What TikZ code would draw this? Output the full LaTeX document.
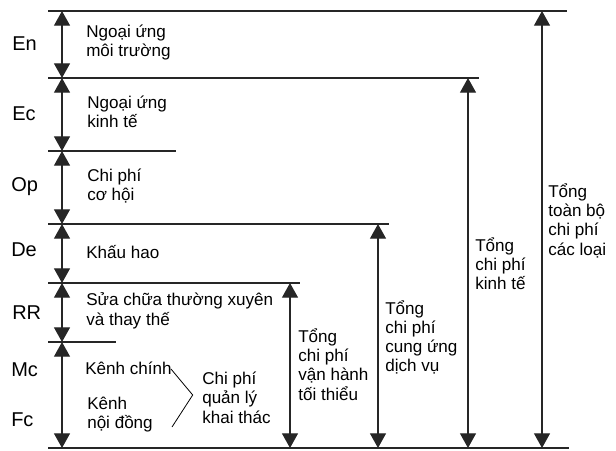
\documentclass[tikz,border=0pt]{standalone}
\usepackage{fontspec}
\setmainfont{Liberation Sans}
\usetikzlibrary{arrows.meta}

\begin{document}
\begin{tikzpicture}[x=0.75pt,y=-0.75pt,
    lvl/.style={line width=1.1pt,draw=black!85},
    dim/.style={line width=0.9pt,draw=black!85,
      {Triangle[width=12pt,length=11pt]}-{Triangle[width=12pt,length=11pt]}},
    txt/.style={font=\fontsize{12.8}{14.3}\selectfont,inner sep=0,anchor=base west,align=left},
    lab/.style={font=\fontsize{15}{18}\selectfont,inner sep=0,anchor=base west}]
  \useasboundingbox (0,0) rectangle (616,450);
  \foreach \n/\y/\r in {0/11/567,1/78/479,2/151/176,3/224/389,4/283/300,5/342/116,6/448/569}{
    \coordinate (h\n) at (48,\y);
    \coordinate (e\n) at (\r,\y);
    \coordinate (l\n) at (62,\y);
    \draw[lvl] (h\n) -- (e\n);
  }
  \foreach \a/\b in {0/1,1/2,2/3,3/4,4/5,5/6}
    \draw[dim] (l\a) -- (l\b);
  \coordinate (cvh) at (290,0);
  \coordinate (ccu) at (378,0);
  \coordinate (ckt) at (468,0);
  \coordinate (ctb) at (542,0);
  \draw[dim] (h4 -| cvh) -- (h6 -| cvh);
  \draw[dim] (h3 -| ccu) -- (h6 -| ccu);
  \draw[dim] (h1 -| ckt) -- (h6 -| ckt);
  \draw[dim] (h0 -| ctb) -- (h6 -| ctb);
  \node[lab] (en) at (12,50) {En};
  \node[lab] (ec) at (12,120.7) {Ec};
  \node[lab] (op) at (11,191.7) {Op};
  \node[lab] (de) at (11,256.7) {De};
  \node[lab] (rr) at (12,319.3) {RR};
  \node[lab] (mc) at (11,376) {Mc};
  \node[lab] (fc) at (11,426.7) {Fc};
  \node[txt] (ngmt) at (86,56.7) {Ngoại ứng\\môi trường};
  \node[txt] (ngkt) at (87,127.3) {Ngoại ứng\\kinh tế};
  \node[txt] (cpch) at (87,200.5) {Chi phí\\cơ hội};
  \node[txt] (khao) at (86,258.3) {Khấu hao};
  \node[txt] (scht) at (86,325) {Sửa chữa thường xuyên\\và thay thế};
  \node[txt] (kchinh) at (85,374) {Kênh chính};
  \node[txt] (kndong) at (87,428.5) {Kênh\\nội đồng};
  \node[txt] (qlkt) at (202,423) {Chi phí\\quản lý\\khai thác};
  \coordinate (b1) at (171,369);
  \coordinate (b2) at (192.7,395);
  \coordinate (b3) at (172,427);
  \draw[line width=0.6pt] (b1) -- (b2) -- (b3);
  \node[txt] (tvh) at (298,400) {Tổng\\chi phí\\vận hành\\tối thiểu};
  \node[txt] (tcu) at (385,371.7) {Tổng\\chi phí\\cung ứng\\dịch vụ};
  \node[txt] (tkt) at (475,289.3) {Tổng\\chi phí\\kinh tế};
  \node[txt] (ttb) at (548,255) {Tổng\\toàn bộ\\chi phí\\các loại};
\end{tikzpicture}
\end{document}
